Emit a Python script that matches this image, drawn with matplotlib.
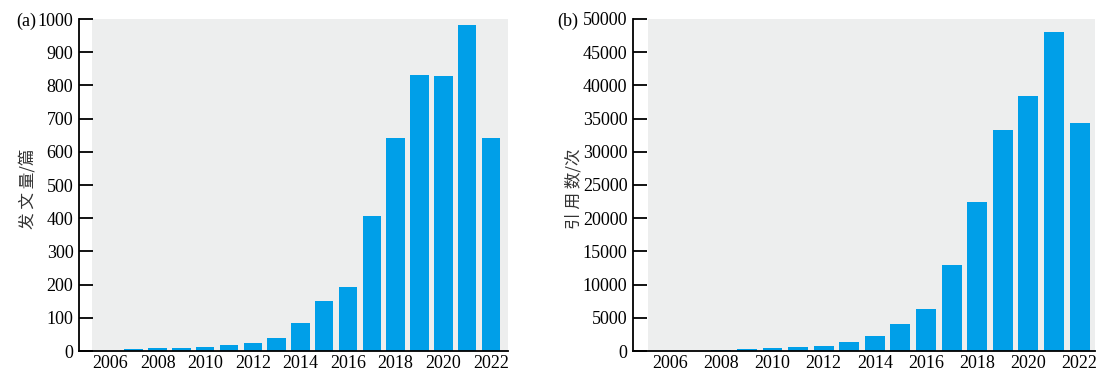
import numpy as np
import matplotlib.pyplot as plt

plt.rcParams['font.family'] = ['Liberation Serif', 'Noto Sans CJK SC']

years = np.arange(2006, 2023)
papers = [0, 6, 9, 9, 12, 18, 24, 39, 84, 151, 193, 406, 641, 830, 827, 982, 641]
citations = [0, 0, 150, 300, 450, 600, 800, 1350, 2260, 4070, 6330, 12950,
             22440, 33280, 38400, 48040, 34340]
year_ticks = np.arange(2006, 2023, 2)

blue = '#009fe8'
gray = '#edeeee'

fig = plt.figure(figsize=(11.18, 3.8), dpi=100)
ax1 = fig.add_axes([79/1118, 1-351/380, 429/1118, 332/380])
ax2 = fig.add_axes([633/1118, 1-351/380, 462/1118, 332/380])

panels = [
    (ax1, papers, 1000, 100, '发 文 量/篇', '(a)', (2006-1.3, 2022+0.72), 2006-0.76, 36, -0.098),
    (ax2, citations, 50000, 5000, '引 用 数/次', '(b)', (2006-1.45, 2022+0.6), 2006-0.86, 578, -0.11),
]

for ax, vals, ymax, step, ylab, tag, xl, gstart, tagx, labx in panels:
    ax.axvspan(gstart, xl[1], color=gray, zorder=0, lw=0)
    ax.bar(years, vals, width=0.78, color=blue, zorder=2)
    ax.set_xlim(*xl)
    ax.set_ylim(0, ymax)
    ax.set_yticks(np.arange(0, ymax + 1, step))
    ax.set_xticks(year_ticks)
    ax.tick_params(axis='y', direction='in', length=10, width=1.3, labelsize=13, pad=4)
    ax.tick_params(axis='x', length=0, labelsize=13, pad=3)
    for s in ['top', 'right']:
        ax.spines[s].set_visible(False)
    ax.spines['left'].set_linewidth(1.3)
    ax.spines['bottom'].set_linewidth(1.3)
    ax.set_ylabel(ylab, fontsize=12, family=['Noto Sans CJK SC'], color='#333333')
    ax.yaxis.set_label_coords(labx, 0.49)
    fig.text(tagx/1118, 1-21/380, tag, fontsize=13, ha='right', va='center')

fig.savefig('out.png', dpi=100)
